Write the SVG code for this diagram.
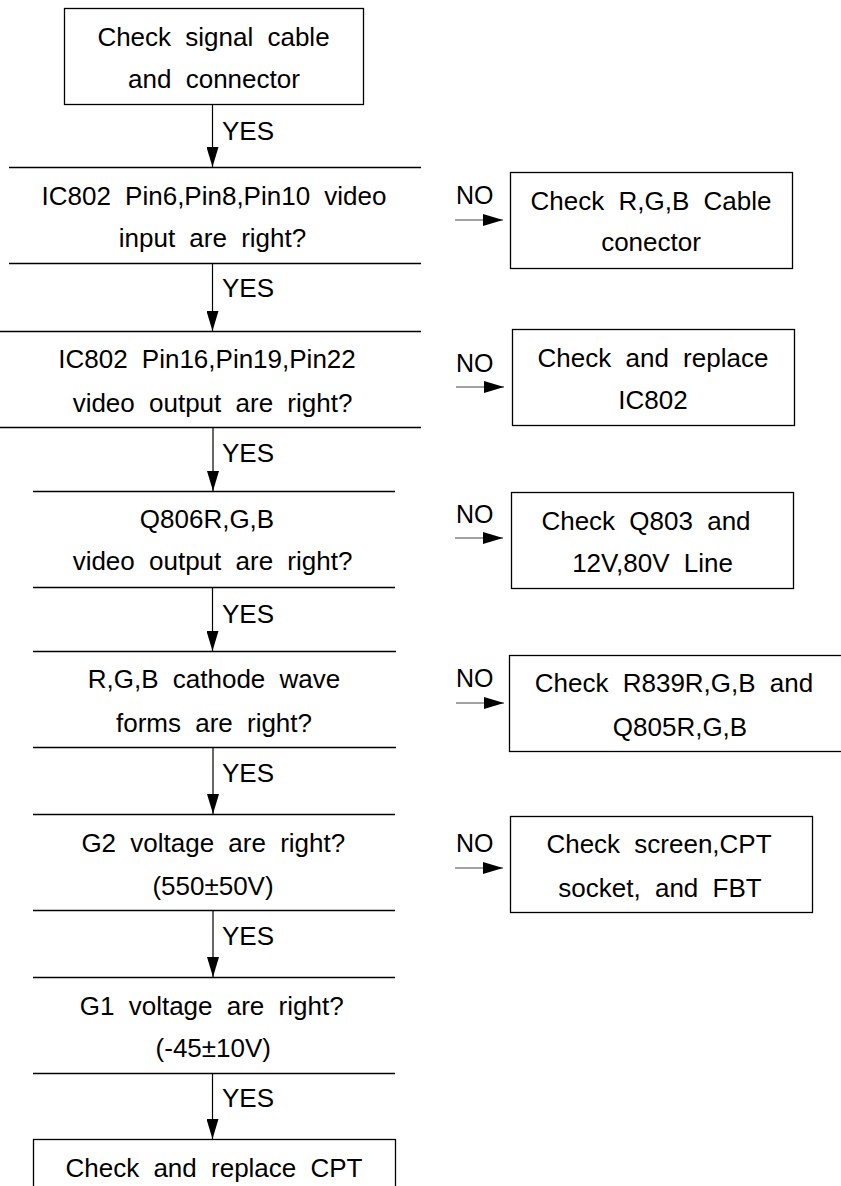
<svg xmlns="http://www.w3.org/2000/svg" width="841" height="1186" viewBox="0 0 841 1186">
<style>
text{font-family:"Liberation Sans",Arial,sans-serif;font-size:26px;fill:#000;word-spacing:7px}
.c{text-anchor:middle}
.lbl{font-size:25px}
.box{fill:#fff;stroke:#000;stroke-width:1.3}
.hl{stroke:#000;stroke-width:1.3;fill:none}
.ar{stroke:#000;stroke-width:1.2;fill:none;marker-end:url(#ah)}
.arn{stroke:#444;stroke-width:1;fill:none;marker-end:url(#ah)}
</style>
<defs>
<marker id="ah" viewBox="0 0 20 12" refX="20" refY="6" markerWidth="20" markerHeight="12" markerUnits="userSpaceOnUse" orient="auto">
<path d="M0,0 L20,6 L0,12 z" fill="#000"/>
</marker>
</defs>
<rect width="841" height="1186" fill="#fff"/>

<g id="start">
<rect class="box" x="64.5" y="8.5" width="299" height="96"/>
<text class="c" x="213.5" y="46">Check signal cable</text>
<text class="c" x="214" y="88">and connector</text>
</g>

<g id="d1">
<line class="hl" x1="9" y1="167.5" x2="421" y2="167.5"/>
<line class="hl" x1="9" y1="263.5" x2="421" y2="263.5"/>
<text class="c" x="214" y="205">IC802 Pin6,Pin8,Pin10 video</text>
<text class="c" x="212.5" y="247">input are right?</text>
</g>

<g id="d2">
<line class="hl" x1="0" y1="331.5" x2="421" y2="331.5"/>
<line class="hl" x1="0" y1="427.5" x2="421" y2="427.5"/>
<text class="c" x="207" y="368">IC802 Pin16,Pin19,Pin22</text>
<text class="c" x="212.5" y="412">video output are right?</text>
</g>

<g id="d3">
<line class="hl" x1="33" y1="491.5" x2="395" y2="491.5"/>
<line class="hl" x1="33" y1="587.5" x2="395" y2="587.5"/>
<text class="c" x="207" y="528">Q806R,G,B</text>
<text class="c" x="212.5" y="570">video output are right?</text>
</g>

<g id="d4">
<line class="hl" x1="33" y1="651.5" x2="396" y2="651.5"/>
<line class="hl" x1="33" y1="747.5" x2="396" y2="747.5"/>
<text class="c" x="214" y="688">R,G,B cathode wave</text>
<text class="c" x="214" y="731.5">forms are right?</text>
</g>

<g id="d5">
<line class="hl" x1="33" y1="814.5" x2="395" y2="814.5"/>
<line class="hl" x1="33" y1="910.5" x2="395" y2="910.5"/>
<text class="c" x="213.3" y="851.5">G2 voltage are right?</text>
<text class="c" x="213" y="895">(550±50V)</text>
</g>

<g id="d6">
<line class="hl" x1="33" y1="977.5" x2="395" y2="977.5"/>
<line class="hl" x1="33" y1="1073.5" x2="395" y2="1073.5"/>
<text class="c" x="211.7" y="1015">G1 voltage are right?</text>
<text class="c" x="213.3" y="1057">(-45±10V)</text>
</g>

<g id="end">
<rect class="box" x="33.5" y="1139.5" width="362" height="70"/>
<text class="c" x="214" y="1176.5">Check and replace CPT</text>
</g>

<g id="r1">
<rect class="box" x="510.5" y="172.5" width="282" height="96"/>
<text class="c" x="651" y="210">Check R,G,B Cable</text>
<text class="c" x="651" y="251">conector</text>
</g>

<g id="r2">
<rect class="box" x="512.5" y="329.5" width="282" height="96"/>
<text class="c" x="653" y="366.5">Check and replace</text>
<text class="c" x="653" y="409">IC802</text>
</g>

<g id="r3">
<rect class="box" x="511.5" y="492.5" width="282" height="96"/>
<text class="c" x="646" y="530">Check Q803 and</text>
<text class="c" x="652.5" y="571.5">12V,80V Line</text>
</g>

<g id="r4">
<rect class="box" x="509.5" y="655.5" width="340" height="96"/>
<text class="c" x="674" y="692">Check R839R,G,B and</text>
<text class="c" x="680" y="735.5">Q805R,G,B</text>
</g>

<g id="r5">
<rect class="box" x="510.5" y="816.5" width="302" height="96"/>
<text class="c" x="659" y="853">Check screen,CPT</text>
<text class="c" x="660" y="896.5">socket, and FBT</text>
</g>

<g id="connectors">
<line class="ar" x1="212.5" y1="104.5" x2="212.5" y2="167"/>
<line class="ar" x1="212.5" y1="263.5" x2="212.5" y2="331"/>
<line class="ar" x1="213" y1="427.5" x2="213" y2="491"/>
<line class="ar" x1="212.5" y1="587.5" x2="212.5" y2="651"/>
<line class="ar" x1="213" y1="747.5" x2="213" y2="814"/>
<line class="ar" x1="213" y1="910.5" x2="213" y2="977"/>
<line class="ar" x1="212.5" y1="1073.5" x2="212.5" y2="1139"/>
<text x="222" y="140">YES</text>
<text x="222" y="297">YES</text>
<text x="222" y="462">YES</text>
<text x="222" y="623">YES</text>
<text x="222" y="782">YES</text>
<text x="222" y="945">YES</text>
<text x="222" y="1107">YES</text>

<line class="arn" x1="455" y1="220" x2="503" y2="220"/>
<line class="arn" x1="456" y1="387" x2="504" y2="387"/>
<line class="arn" x1="455" y1="538" x2="503" y2="538"/>
<line class="arn" x1="456" y1="703" x2="504" y2="703"/>
<line class="arn" x1="455" y1="868" x2="503" y2="868"/>
<text class="lbl" x="456" y="204">NO</text>
<text class="lbl" x="456" y="372">NO</text>
<text class="lbl" x="456" y="523">NO</text>
<text class="lbl" x="456" y="687">NO</text>
<text class="lbl" x="456" y="852">NO</text>
</g>
</svg>
